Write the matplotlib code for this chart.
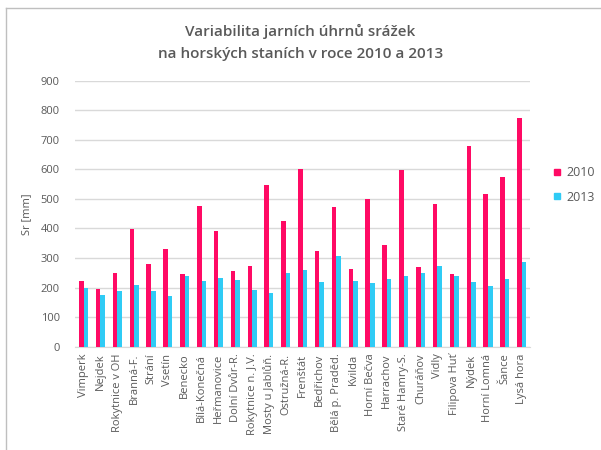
import matplotlib
matplotlib.use("Agg")
import matplotlib.pyplot as plt
import numpy as np
from matplotlib.lines import Line2D

plt.rcParams['font.family'] = ['Open Sans', 'DejaVu Sans']

stations = ['Vimperk', 'Nejdek', 'Rokytnice v OH', 'Branná-F.', 'Strání', 'Vsetín',
            'Benecko', 'Bílá-Konečná', 'Heřmanovice', 'Dolní Dvůr-R.', 'Rokytnice n. J.V.',
            'Mosty u Jablůň.', 'Ostružná-R.', 'Frenštát', 'Bedřichov', 'Bělá p. Praděd.',
            'Kvilda', 'Horní Bečva', 'Harrachov', 'Staré Hamry-S.', 'Churáňov', 'Vidly',
            'Filipova Huť', 'Nýdek', 'Horní Lomná', 'Šance', 'Lysá hora']
sr_2010 = [221, 194, 249, 398, 279, 329, 247, 475, 391, 256, 274, 546, 425, 600,
           325, 474, 263, 501, 343, 597, 268, 483, 245, 679, 517, 574, 775]
sr_2013 = [198, 174, 187, 209, 187, 171, 240, 221, 233, 226, 192, 183, 251, 258,
           218, 307, 222, 215, 229, 240, 249, 274, 238, 220, 204, 229, 285]
yticks = [0, 100, 200, 300, 400, 500, 600, 700, 800, 900]

red = '#FF0A64'
blue = '#2FCBF5'
grey = '#595959'

fig = plt.figure(figsize=(6.01, 4.5), dpi=100)
ax = fig.add_axes([0.125, 0.2296, 0.757, 0.591])

x = np.arange(len(stations))
w = 0.27
ax.bar(x - w / 2, sr_2010, w, color=red, label='2010', zorder=3)
ax.bar(x + w / 2, sr_2013, w, color=blue, label='2013', zorder=3)

ax.set_xlim(-0.5, len(stations) - 0.5)
ax.set_ylim(0, 900)
ax.set_yticks(yticks)
ax.yaxis.grid(True, color='#D9D9D9', linewidth=1.0, zorder=0)
ax.set_axisbelow(True)
for s in ['top', 'right', 'left']:
    ax.spines[s].set_visible(False)
ax.spines['bottom'].set_color('#D9D9D9')
ax.tick_params(axis='both', length=0, labelsize=8, labelcolor=grey)
ax.tick_params(axis='y', pad=11)
ax.tick_params(axis='x', pad=5)
ax.set_xticks(x)
ax.set_xticklabels(stations, rotation=90, va='top', ha='center')
ax.set_ylabel('Sr [mm]', fontsize=8, color=grey, labelpad=6)

fig.text(0.5, 0.931, 'Variabilita jarních úhrnů srážek', ha='center', va='center',
         fontsize=11, fontweight='semibold', color=grey)
fig.text(0.5, 0.879, 'na horských staních v roce 2010 a 2013', ha='center', va='center',
         fontsize=11, fontweight='semibold', color=grey)

handles = [Line2D([], [], marker='s', linestyle='none', color=red, markersize=5),
           Line2D([], [], marker='s', linestyle='none', color=blue, markersize=5)]
fig.legend(handles, ['2010', '2013'], loc='upper left', bbox_to_anchor=(0.898, 0.655),
           frameon=False, fontsize=9, labelcolor=grey, handletextpad=0.2,
           handlelength=1.0, labelspacing=0.9)

# chart frame (only left/top visible in the crop)
fig.add_artist(Line2D([0.01, 0.01], [0, 0.982], color='#BFBFBF', linewidth=1))
fig.add_artist(Line2D([0.01, 1.0], [0.982, 0.982], color='#BFBFBF', linewidth=1))

fig.savefig('out.png', dpi=100)
